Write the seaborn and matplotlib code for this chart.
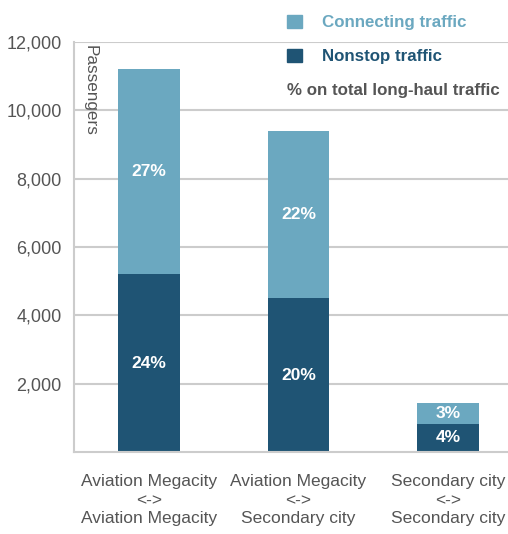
import matplotlib
matplotlib.use("Agg")
import matplotlib.pyplot as plt
from matplotlib.patches import Rectangle
import pandas as pd
import seaborn as sns

# data
routes = [
    "Aviation Megacity\n<->\nAviation Megacity",
    "Aviation Megacity\n<->\nSecondary city",
    "Secondary city\n<->\nSecondary city",
]
nonstop = [5200, 4500, 820]
connecting = [6000, 4900, 620]
nonstop_share = ["24%", "20%", "4%"]
connecting_share = ["27%", "22%", "3%"]
y_ticks = [2000, 4000, 6000, 8000, 10000, 12000]

LIGHT = "#6ba8c0"
DARK = "#1f5474"
GREY = "#555555"
GRID = "#cccccc"

sns.set_style("white")
plt.rcParams["font.family"] = ["Liberation Sans", "DejaVu Sans"]

df = pd.DataFrame({"route": routes, "nonstop": nonstop, "connecting": connecting})
df["total"] = df["nonstop"] + df["connecting"]

W, H = 508, 534
fig = plt.figure(figsize=(W / 100, H / 100), dpi=100)
ax = fig.add_axes([74 / W, 1 - 452 / H, 1 - 74 / W, 410 / H])

bar_w = 0.413
sns.barplot(data=df, x="route", y="total", color=LIGHT, width=bar_w,
            saturation=1, errorbar=None, linewidth=0, ax=ax)
sns.barplot(data=df, x="route", y="nonstop", color=DARK, width=bar_w,
            saturation=1, errorbar=None, linewidth=0, ax=ax)

# share labels, centred in each segment
for i, row in df.iterrows():
    ax.text(i, row["nonstop"] / 2, nonstop_share[i], ha="center", va="center",
            color="white", fontsize=12.5, fontweight="bold")
    ax.text(i, row["nonstop"] + row["connecting"] / 2, connecting_share[i],
            ha="center", va="center", color="white", fontsize=12.5, fontweight="bold")

ax.set_xlim(-0.5, 2.4)
ax.set_ylim(0, 12000)
ax.set_yticks(y_ticks)
ax.set_yticklabels([f"{v:,}" for v in y_ticks])
ax.yaxis.grid(True, color=GRID, lw=1.5)
ax.set_axisbelow(True)
ax.set_xlabel("")
ax.set_ylabel("")

for s in ["top", "right"]:
    ax.spines[s].set_visible(False)
for s in ["left", "bottom"]:
    ax.spines[s].set_color(GRID)
    ax.spines[s].set_linewidth(1.5)

ax.tick_params(axis="y", length=5, width=1.5, color=GRID, labelsize=13,
               labelcolor=GREY, pad=4)
ax.tick_params(axis="x", which="major", length=0, labelsize=12.5,
               labelcolor=GREY, pad=16)
for lab in ax.get_xticklabels():
    lab.set_linespacing(1.3)

# category dividers below the axis
ax.set_xticks([i - 0.5 for i in range(len(routes))], minor=True)
ax.tick_params(axis="x", which="minor", length=59, width=1.5, color=GRID)
ax.xaxis.get_minor_ticks()[0].tick1line.set_markersize(7)

ax.text(0.02, 0.993, "Passengers", transform=ax.transAxes, rotation=270,
        ha="left", va="top", fontsize=12.3, color=GREY)

# legend block at top right
fig.patches.append(Rectangle((287 / W, 1 - 28 / H), 15 / W, 13 / H,
                             color=LIGHT, transform=fig.transFigure))
fig.patches.append(Rectangle((287 / W, 1 - 62 / H), 15 / W, 13 / H,
                             color=DARK, transform=fig.transFigure))
fig.text(322 / W, 1 - 22 / H, "Connecting traffic", color=LIGHT, fontsize=12.2,
         fontweight="bold", va="center")
fig.text(322 / W, 1 - 57 / H, "Nonstop traffic", color=DARK, fontsize=12.2,
         fontweight="bold", va="center")
fig.text(287 / W, 1 - 90 / H, "% on total long-haul traffic", color=GREY,
         fontsize=12.2, fontweight="bold", va="center")

fig.savefig("out.png", dpi=100)
